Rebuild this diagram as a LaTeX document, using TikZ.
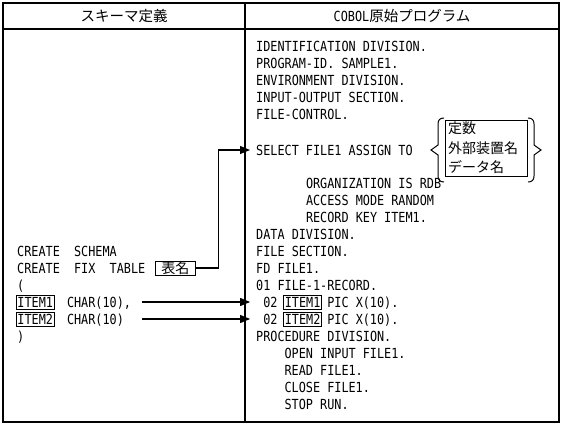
\documentclass[tikz,border=0pt]{standalone}
\usepackage{fontspec}
\newfontfamily\cobolfont[FakeStretch=0.85]{DejaVu Sans Mono}
\newfontfamily\jpfont{Noto Sans CJK JP}
\usetikzlibrary{arrows.meta,calc}
\tikzset{
  cobol/.style={font=\cobolfont\fontsize{13.9}{17}\selectfont, inner sep=0pt, anchor=west, text height=10pt, text depth=0pt},
  ibox/.style={cobol, draw, line width=0.9pt, inner xsep=1.5pt, inner ysep=2pt},
  jbox/.style={font=\jpfont\fontsize{14}{17}\selectfont, draw, line width=0.9pt, anchor=west, inner xsep=6pt, inner ysep=1pt, text height=11pt, text depth=1pt},
  head/.style={inner sep=0pt},
  frame/.style={line width=1.1pt},
  arr/.style={-{Triangle[length=10pt,width=8pt]}, line width=1.1pt},
  brace/.style={line width=1pt},
}
\begin{document}
\begin{tikzpicture}[x=1pt,y=-1pt]
\useasboundingbox (0,0) rectangle (562,426);
% frame
\draw[frame] (3,3) rectangle (559,422);
\draw[frame] (3,29) -- (559,29);
\draw[frame] (245,3) -- (245,422);
% headers
\node[head] (h1) at (124,16) {\jpfont\fontsize{14.5}{17}\selectfont スキーマ定義};
\node[head] (h2) at (402,16) {{\cobolfont\fontsize{13.9}{17}\selectfont COBOL}{\jpfont\fontsize{14.5}{17}\selectfont 原始プログラム}};
% right column
\node[cobol] (r1) at (256,46) {IDENTIFICATION DIVISION.};
\node[cobol] (r2) at (256,63) {PROGRAM-ID. SAMPLE1.};
\node[cobol] (r3) at (256,80) {ENVIRONMENT DIVISION.};
\node[cobol] (r4) at (256,97) {INPUT-OUTPUT SECTION.};
\node[cobol] (r5) at (256,114) {FILE-CONTROL.};
\node[cobol] (sel) at (256,150) {SELECT FILE1 ASSIGN TO};
\node[cobol] (r7) at (305.8,183) {ORGANIZATION IS RDB};
\node[cobol] (r8) at (305.8,200) {ACCESS MODE RANDOM};
\node[cobol] (r9) at (305.8,217) {RECORD KEY ITEM1.};
\node[cobol] (r10) at (256,234) {DATA DIVISION.};
\node[cobol] (r11) at (256,251) {FILE SECTION.};
\node[cobol] (r12) at (256,268) {FD FILE1.};
\node[cobol] (r13) at (256,285) {01 FILE-1-RECORD.};
\node[cobol] (ra) at (263.1,302) {02};
\node[ibox] (rai) at (282.9,302) {ITEM1};
\node[cobol] (rap) at (327.1,302) {PIC X(10).};
\node[cobol] (rb) at (263.1,319) {02};
\node[ibox] (rbi) at (282.9,319) {ITEM2};
\node[cobol] (rbp) at (327.1,319) {PIC X(10).};
\node[cobol] (r16) at (256,336) {PROCEDURE DIVISION.};
\node[cobol] (r17) at (284.4,353) {OPEN INPUT FILE1.};
\node[cobol] (r18) at (284.4,370) {READ FILE1.};
\node[cobol] (r19) at (284.4,387) {CLOSE FILE1.};
\node[cobol] (r20) at (284.4,404) {STOP RUN.};
% choice box with braces
\node[draw, line width=0.9pt, align=left, inner xsep=3pt, inner ysep=2pt, text width=76pt,
      font=\jpfont\fontsize{14}{19.5}\selectfont] (opt) at (486,148) {定数\\外部装置名\\データ名};
\draw[brace] (444,118) .. controls (440,118) and (438,120) .. (438,124) -- (438,145) -- (431,150) -- (438,155) -- (438,176) .. controls (438,180) and (440,182) .. (444,182);
\draw[brace] (528,118) .. controls (532,118) and (534,120) .. (534,124) -- (534,145) -- (541,150) -- (534,155) -- (534,176) .. controls (534,180) and (532,182) .. (528,182);
% left column
\node[cobol] (l1) at (17,251) {CREATE\ \ SCHEMA};
\node[cobol] (l2) at (17,268) {CREATE\ \ FIX\ \ TABLE};
\node[jbox] (tbl) at (155,268) {表名};
\node[cobol] (l3) at (17,285) {(};
\node[ibox] (li1) at (15.5,302) {ITEM1};
\node[cobol] (lc1) at (66.8,302) {CHAR(10),};
\node[ibox] (li2) at (15.5,319) {ITEM2};
\node[cobol] (lc2) at (66.8,319) {CHAR(10)};
\node[cobol] (l6) at (17,336) {)};
% connectors
\draw[arr, shorten >=6pt] (tbl.east) -- ++(23,0) |- (sel.west);
\coordinate (s1) at ([xshift=11pt]lc1.east);
\draw[arr, shorten >=13pt] (s1) -- (ra.west);
\draw[arr, shorten >=13pt] (lc2.east -| s1) -- (rb.west);
\end{tikzpicture}
\end{document}
